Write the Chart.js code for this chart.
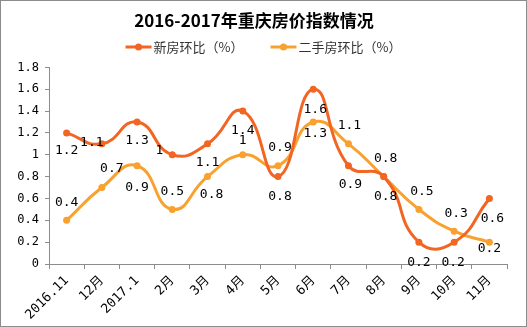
<!DOCTYPE html>
<html>
<head>
<meta charset="utf-8">
<script src="https://cdn.jsdelivr.net/npm/chart.js@4.4.0/dist/chart.umd.min.js"></script>
<style>
  html, body { margin: 0; padding: 0; background: #fff; }
  #wrap { width: 527px; height: 327px; box-sizing: border-box; border: 1px solid #8c8c8c; }
  #mycanvas { display: block; }
</style>
</head>
<body>
<div id="wrap"><canvas id="mycanvas" width="525" height="325"></canvas></div>
<script>
var months = ["2016.11", "12月", "2017.1", "2月", "3月", "4月", "5月", "6月", "7月", "8月", "9月", "10月", "11月"];
var newHouse = [1.2, 1.1, 1.3, 1.0, 1.1, 1.4, 0.8, 1.6, 0.9, 0.8, 0.2, 0.2, 0.6];
var usedHouse = [0.4, 0.7, 0.9, 0.5, 0.8, 1.0, 0.9, 1.3, 1.1, 0.8, 0.5, 0.3, 0.2];
var yTicks = [0, 0.2, 0.4, 0.6, 0.8, 1, 1.2, 1.4, 1.6, 1.8];

// where each value label sits relative to its point (dx, dy)
var newLabelPos = [[0,18],[-10,-1],[0,19],[-13,-4],[0,19],[0,20],[2,20],[2,20],[2,19],[2,20],[0,20],[-1,20],[3,20]];
var usedLabelPos = [[0,-18],[10,-19],[0,22],[0,-18],[4,18],[0,-14],[2,-18],[2,12],[1,-18],[2,-18],[3,-18],[2,-18],[0,6]];

var newColor = "#f26522";
var usedColor = "#f9a12e";

function fmt(v) {
  return String(Number(v.toFixed(1)));
}

// value labels next to each point
var valueLabels = {
  id: "valueLabels",
  afterDatasetsDraw: function(chart) {
    var ctx = chart.ctx;
    ctx.save();
    ctx.font = "13px 'DejaVu Sans Mono'";
    ctx.fillStyle = "#000";
    ctx.textAlign = "center";
    ctx.textBaseline = "middle";
    chart.data.datasets.forEach(function(ds, di) {
      var pos = ds.labelPos;
      chart.getDatasetMeta(di).data.forEach(function(pt, i) {
        ctx.fillText(fmt(ds.data[i]), pt.x + pos[i][0], pt.y + pos[i][1]);
      });
    });
    ctx.restore();
  }
};

// legend row under the title: line + dot, then the series name
var lineLegend = {
  id: "lineLegend",
  afterDraw: function(chart) {
    var ctx = chart.ctx;
    var y = 46, icon = 26, gap = 2, spacing = 27;
    ctx.save();
    ctx.font = "13px 'Noto Sans CJK SC'";
    var items = chart.data.datasets.map(function(ds) {
      return { text: ds.label, color: ds.borderColor, w: ctx.measureText(ds.label).width };
    });
    var total = items.reduce(function(s, it) { return s + icon + gap + it.w; }, 0) + spacing * (items.length - 1);
    var x = chart.width / 2 - total / 2;
    items.forEach(function(it) {
      ctx.strokeStyle = it.color;
      ctx.lineWidth = 3;
      ctx.beginPath(); ctx.moveTo(x, y); ctx.lineTo(x + icon, y); ctx.stroke();
      ctx.fillStyle = it.color;
      ctx.beginPath(); ctx.arc(x + icon / 2, y, 3.5, 0, Math.PI * 2); ctx.fill();
      ctx.fillStyle = "#333";
      ctx.textAlign = "left";
      ctx.textBaseline = "middle";
      ctx.fillText(it.text, x + icon + gap, y);
      x += icon + gap + it.w + spacing;
    });
    ctx.restore();
  }
};

var chart = new Chart(document.getElementById("mycanvas"), {
  type: "line",
  data: {
    labels: months,
    datasets: [
      {
        label: "新房环比（%）",
        data: newHouse,
        labelPos: newLabelPos,
        borderColor: newColor,
        backgroundColor: newColor,
        borderWidth: 3,
        pointRadius: 3.5,
        pointBackgroundColor: newColor,
        pointBorderWidth: 0,
        tension: 0.5,
        fill: false
      },
      {
        label: "二手房环比（%）",
        data: usedHouse,
        labelPos: usedLabelPos,
        borderColor: usedColor,
        backgroundColor: usedColor,
        borderWidth: 3,
        pointRadius: 3.5,
        pointBackgroundColor: usedColor,
        pointBorderWidth: 0,
        tension: 0.5,
        fill: false
      }
    ]
  },
  options: {
    responsive: false,
    animation: false,
    layout: { padding: { left: 0, right: 19, top: 0, bottom: 0 } },
    plugins: {
      title: {
        display: true,
        text: "2016-2017年重庆房价指数情况",
        color: "#000",
        font: { family: "'Noto Sans CJK SC'", size: 17, weight: "bold" },
        padding: { top: 9, bottom: 37 }
      },
      legend: { display: false },
      tooltip: { enabled: false }
    },
    scales: {
      x: {
        offset: true,
        grid: { display: true, drawOnChartArea: false, offset: true, tickLength: 5, color: "#8c8c8c" },
        border: { color: "#8c8c8c" },
        ticks: {
          minRotation: 45, maxRotation: 45, autoSkip: false, color: "#000", padding: 4,
          font: { family: "'DejaVu Sans Mono', 'Noto Sans CJK SC'", size: 13 }
        },
        afterFit: function(s) { s.height = 62; }
      },
      y: {
        min: 0, max: 1.8,
        afterBuildTicks: function(s) { s.ticks = yTicks.map(function(v) { return { value: v }; }); },
        grid: { display: true, drawOnChartArea: false, tickLength: 4, color: "#8c8c8c" },
        border: { color: "#8c8c8c" },
        ticks: {
          color: "#000", padding: 6,
          font: { family: "'DejaVu Sans Mono'", size: 12 },
          callback: function(v) { return fmt(v); }
        },
        afterFit: function(s) { s.width = 48; }
      }
    }
  },
  plugins: [valueLabels, lineLegend]
});
</script>
</body>
</html>
